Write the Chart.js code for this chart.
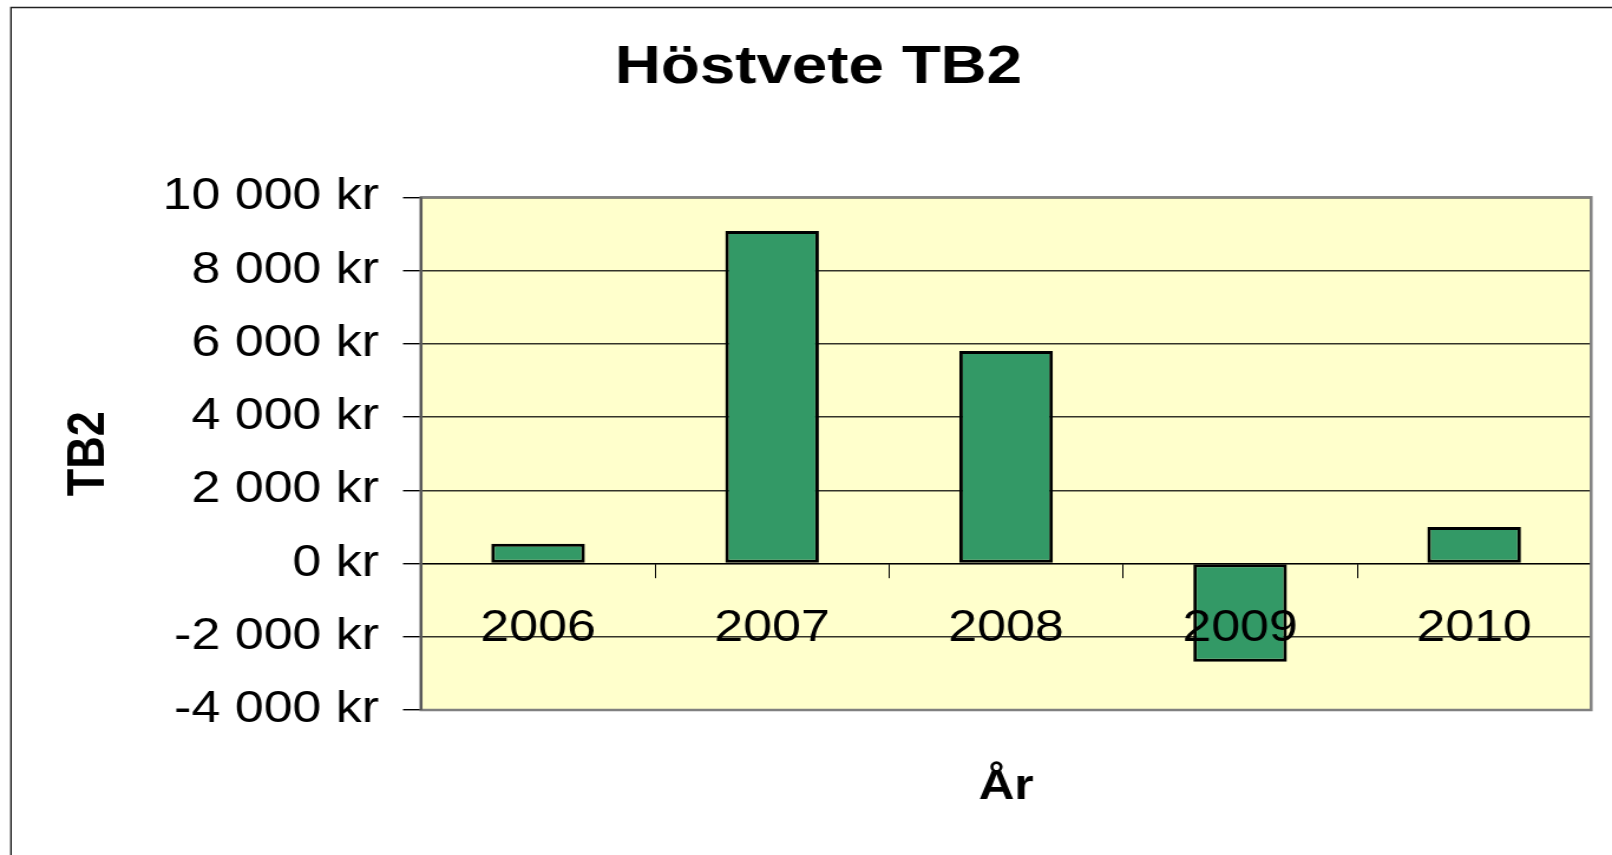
<!DOCTYPE html>
<html>
<head>
<meta charset="utf-8">
<title>Höstvete TB2</title>
<script src="https://cdn.jsdelivr.net/npm/chart.js@4/dist/chart.umd.min.js"></script>
<style>
  html, body { margin: 0; padding: 0; background: #ffffff; overflow: hidden; }
</style>
</head>
<body>
<!-- the original picture is stretched sideways, so the canvas is drawn narrower and widened -->
<canvas id="chart" width="1366" height="855" style="display:block;width:1612px;height:855px"></canvas>
<script>
const years = ["2006", "2007", "2008", "2009", "2010"];
const tb2Values = [540, 9080, 5800, -2680, 1000];
const yTickValues = [-4000, -2000, 0, 2000, 4000, 6000, 8000, 10000];

const chartTitle = "Höstvete TB2";
const yTitle = "TB2";
const xTitle = "År";

/**
 * format a number as "10 000 kr"
 */
function krLabel(value) {
  const digits = Math.abs(value).toString().replace(/\B(?=(\d{3})+(?!\d))/g, " ");
  return (value < 0 ? "-" : "") + digits + " kr";
}

Chart.defaults.font.family = "'Liberation Sans', Arial, sans-serif";
Chart.defaults.color = "#000000";

// chart frame, plot background and plot border
const framePlugin = {
  id: "frame",
  beforeDraw(chart) {
    const { ctx, chartArea: a } = chart;
    ctx.save();
    ctx.fillStyle = "#ffffff";
    ctx.fillRect(0, 0, chart.width, chart.height);
    ctx.strokeStyle = "#222222";
    ctx.lineWidth = 1.4;
    ctx.beginPath();
    ctx.moveTo(9.3, chart.height);
    ctx.lineTo(9.3, 7.5);
    ctx.lineTo(chart.width, 7.5);
    ctx.stroke();
    ctx.fillStyle = "#ffffcc";
    ctx.fillRect(a.left, a.top, a.right - a.left, a.bottom - a.top);
    ctx.restore();
  },
  afterDraw(chart) {
    const { ctx, chartArea: a } = chart;
    ctx.save();
    ctx.strokeStyle = "#808080";
    ctx.lineWidth = 2.5;
    ctx.strokeRect(a.left, a.top, a.right - a.left, a.bottom - a.top);
    // left edge is the value axis, a little darker
    ctx.strokeStyle = "#555555";
    ctx.lineWidth = 2;
    ctx.beginPath();
    ctx.moveTo(a.left, a.top);
    ctx.lineTo(a.left, a.bottom);
    ctx.stroke();
    ctx.restore();
  }
};

const ctx = document.getElementById("chart");

new Chart(ctx, {
  type: "bar",
  data: {
    labels: years,
    datasets: [{
      label: yTitle,
      data: tb2Values,
      backgroundColor: "#339966",
      borderColor: "#000000",
      borderWidth: 3,
      borderSkipped: false,
      barPercentage: 0.4,
      categoryPercentage: 1.0
    }]
  },
  options: {
    responsive: false,
    devicePixelRatio: 1,
    animation: false,
    layout: {
      padding: { left: 38.9, right: 17.7, top: 0, bottom: 0 }
    },
    plugins: {
      legend: { display: false },
      tooltip: { enabled: false },
      title: {
        display: true,
        text: chartTitle,
        font: { size: 54, weight: "bold" },
        color: "#000000",
        padding: { top: 35.6, bottom: 96.9 }
      }
    },
    scales: {
      x: {
        type: "category",
        position: { y: 0 },
        offset: true,
        grid: {
          offset: true,
          drawOnChartArea: false,
          drawTicks: true,
          tickLength: 14,
          tickColor: "#000000",
          tickWidth: 1
        },
        border: { display: true, color: "#000000", width: 1.2 },
        ticks: {
          z: 1,
          font: { size: 44 },
          color: "#000000",
          padding: 24.8,
          maxRotation: 0,
          autoSkip: false
        },
        afterFit(scale) {
          scale.height = 0;
        }
      },
      xTitle: {
        type: "category",
        position: "bottom",
        offset: true,
        grid: { display: false },
        border: { display: false },
        ticks: { display: false },
        title: {
          display: true,
          text: xTitle,
          font: { size: 42, weight: "bold" },
          color: "#000000",
          padding: { top: 0, bottom: 42.7 }
        },
        afterFit(scale) {
          scale.height = 145;
        }
      },
      y: {
        position: "left",
        min: yTickValues[0],
        max: yTickValues[yTickValues.length - 1],
        afterBuildTicks(scale) {
          scale.ticks = yTickValues.map((v) => ({ value: v }));
        },
        grid: {
          color: "rgba(0,0,0,0.8)",
          lineWidth: 1.4,
          drawTicks: true,
          tickLength: 15.3,
          tickColor: "#000000",
          tickWidth: 1.4
        },
        border: { display: false },
        ticks: {
          font: { size: 44 },
          color: "#000000",
          padding: 20.3,
          callback: (value) => krLabel(value)
        },
        title: {
          display: true,
          text: yTitle,
          font: { size: 45, weight: "bold" },
          color: "#000000",
          padding: { top: 9.4, bottom: 0 }
        },
        afterFit(scale) {
          scale.width = 317.9;
        }
      }
    }
  },
  plugins: [framePlugin]
});
</script>
</body>
</html>
